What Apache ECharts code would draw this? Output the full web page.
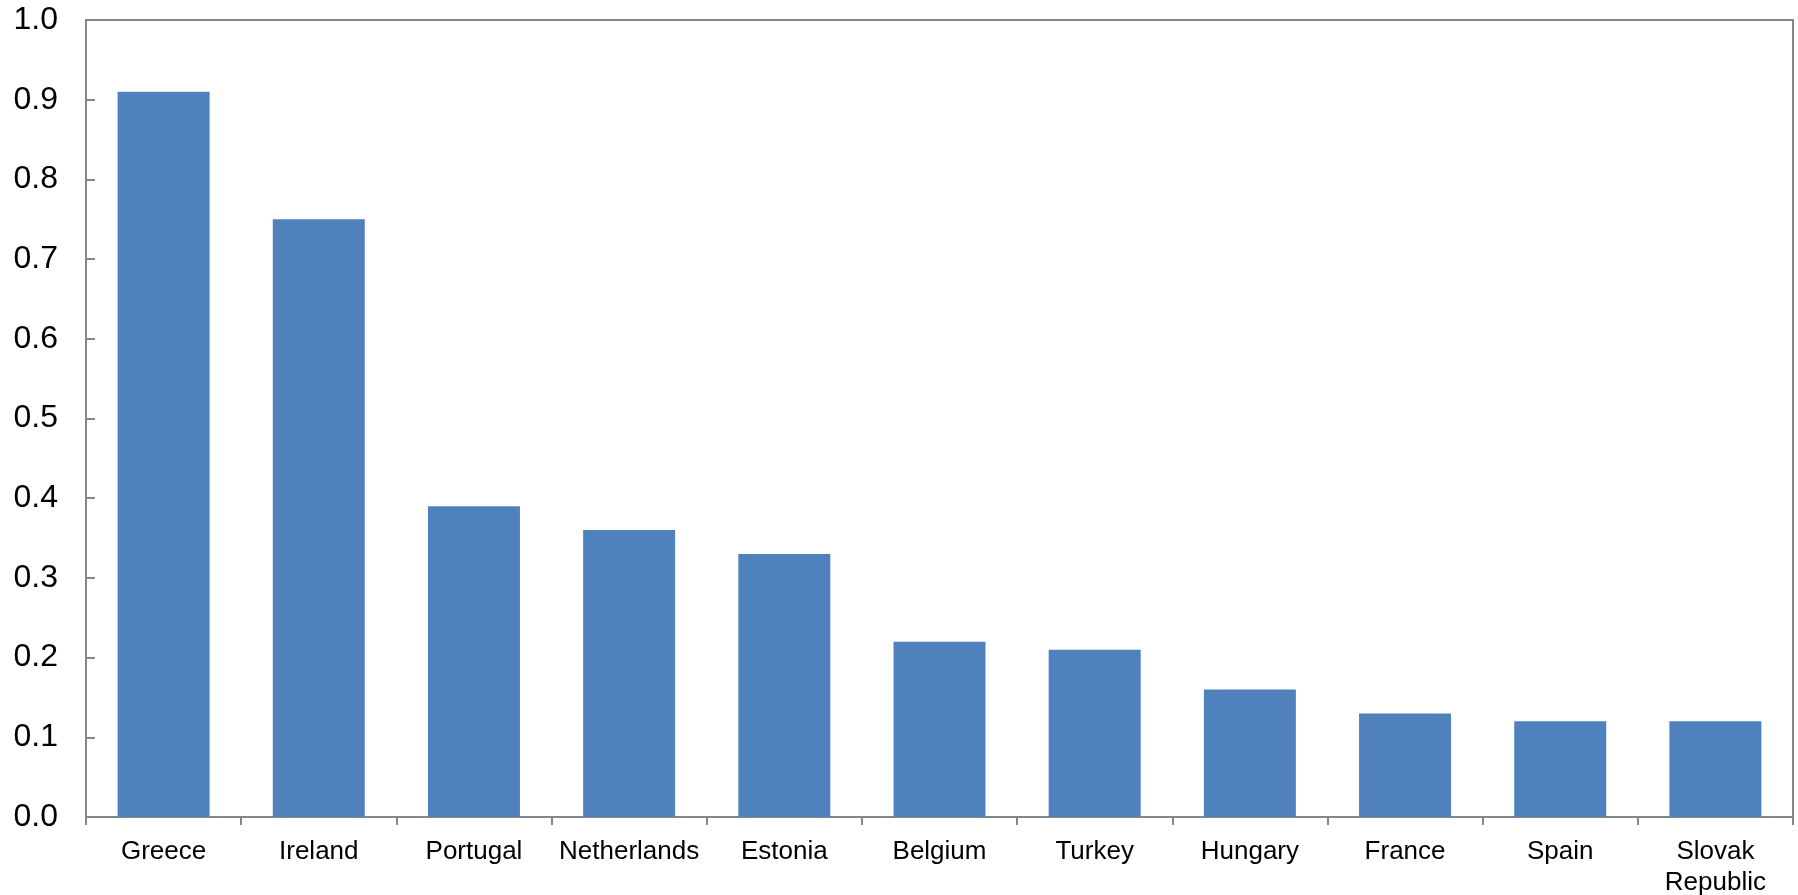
<!DOCTYPE html>
<html>
<head>
<meta charset="utf-8">
<script src="https://cdn.jsdelivr.net/npm/echarts@6/dist/echarts.min.js"></script>
<style>
html,body{margin:0;padding:0;background:#fff;}
#chart{width:1798px;height:895px;}
</style>
</head>
<body>
<div id="chart"></div>
<script>
const categories = ['Greece', 'Ireland', 'Portugal', 'Netherlands', 'Estonia', 'Belgium', 'Turkey', 'Hungary', 'France', 'Spain', 'Slovak\nRepublic'];
const values = [0.91, 0.75, 0.39, 0.36, 0.33, 0.22, 0.21, 0.16, 0.13, 0.12, 0.12];

const chart = echarts.init(document.getElementById('chart'), null, {renderer: 'canvas'});
const axisColor = '#868686';
chart.setOption({
  animation: false,
  backgroundColor: '#ffffff',
  grid: {left: 86, top: 20, right: 5, bottom: 78, show: true, borderColor: axisColor, borderWidth: 2, containLabel: false, outerBoundsMode: 'none'},
  xAxis: {
    type: 'category',
    data: categories,
    axisLine: {lineStyle: {color: axisColor, width: 2}},
    axisTick: {show: true, alignWithLabel: false, length: 8, lineStyle: {color: axisColor, width: 2}},
    axisLabel: {color: '#000', fontFamily: 'Liberation Sans, Arial, sans-serif', fontSize: 26, margin: 19, lineHeight: 31, interval: 0}
  },
  yAxis: {
    type: 'value',
    min: 0, max: 1, interval: 0.1,
    axisLine: {show: true, lineStyle: {color: axisColor, width: 2}},
    axisTick: {show: true, inside: true, length: 9, lineStyle: {color: axisColor, width: 2}},
    splitLine: {show: false},
    axisLabel: {color: '#000', fontFamily: 'Liberation Sans, Arial, sans-serif', fontSize: 32, margin: 28, formatter: v => v.toFixed(1)}
  },
  series: [{
    type: 'bar',
    data: values,
    barWidth: 92,
    itemStyle: {color: '#4F81BD'}
  }]
});
</script>
</body>
</html>
